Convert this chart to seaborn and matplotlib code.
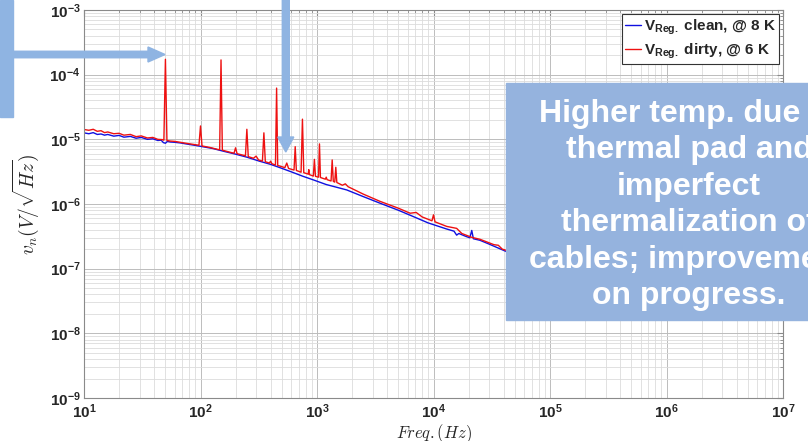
import numpy as np
import pandas as pd
import matplotlib
matplotlib.use("Agg")
import matplotlib.pyplot as plt
import matplotlib.ticker as mticker
from matplotlib.patches import Rectangle, FancyArrow
from matplotlib.transforms import IdentityTransform
import seaborn as sns

# ---------------- data ----------------
blue_freq = [10, 11, 12, 13, 14, 15, 16, 18, 20, 22, 25, 28, 31, 35, 39, 43, 46, 48, 50, 52,
             55, 60, 67, 75, 85, 100, 128, 160, 200, 250, 320, 400, 480, 600, 750, 930, 1200,
             1500, 1800, 2500, 3470, 5000, 6700, 9000, 13000, 15000, 15800, 16500, 19000,
             20500, 21300, 22000, 25000, 30000, 41000, 60000, 100000]
blue_vals = [1.26e-5, 1.22e-5, 1.27e-5, 1.19e-5, 1.21e-5, 1.16e-5, 1.19e-5, 1.12e-5, 1.15e-5,
             1.08e-5, 1.11e-5, 1.04e-5, 1.07e-5, 1.0e-5, 1.02e-5, 9.6e-6, 9.7e-6, 8.9e-6, 8.7e-6,
             9.3e-6, 9.1e-6, 9.0e-6, 8.8e-6, 8.5e-6, 8.2e-6, 7.8e-6, 7.2e-6, 6.5e-6, 5.9e-6,
             5.3e-6, 4.6e-6, 4.1e-6, 3.65e-6, 3.15e-6, 2.7e-6, 2.36e-6, 2.0e-6, 1.8e-6, 1.65e-6,
             1.3e-6, 1.03e-6, 8.0e-7, 6.4e-7, 5.1e-7, 4.1e-7, 3.8e-7, 3.3e-7, 3.5e-7, 3.15e-7,
             3.0e-7, 3.9e-7, 2.9e-7, 2.75e-7, 2.4e-7, 1.88e-7, 1.4e-7, 9.0e-8]

red_freq = [10, 11, 12, 13, 14, 15, 16, 18, 20, 22, 25, 28, 31, 35, 39, 43, 47, 48.5, 50, 51.5,
            55, 60, 67, 75, 85, 97, 100, 103, 120, 140, 146, 150, 154, 180, 194, 200, 206,
            240, 243, 250, 257, 285, 300, 315, 340, 350, 360, 390, 400, 410, 440, 450, 460,
            530, 550, 570, 635, 650, 665, 730, 750, 770, 840, 850, 860, 930, 950, 970,
            1030, 1050, 1070, 1180, 1200, 1220, 1320, 1350, 1380, 1420, 1450, 1480,
            1650, 1750, 1850, 2500, 3470, 5000, 6300, 7100, 8000, 9700, 10000, 10300,
            13000, 15800, 17500, 21300, 25000, 33000, 36000, 39000, 41000, 60000, 100000]
red_vals = [1.42e-5, 1.38e-5, 1.43e-5, 1.33e-5, 1.36e-5, 1.27e-5, 1.3e-5, 1.22e-5, 1.24e-5,
            1.16e-5, 1.19e-5, 1.1e-5, 1.13e-5, 1.05e-5, 1.07e-5, 1.0e-5, 9.9e-6, 9.7e-6,
            1.73e-4, 9.6e-6, 9.4e-6, 9.3e-6, 9.0e-6, 8.7e-6, 8.4e-6, 8.1e-6, 1.61e-5, 7.9e-6,
            7.5e-6, 7.0e-6, 6.9e-6, 1.69e-4, 6.8e-6, 6.3e-6, 6.1e-6, 7.4e-6, 6.0e-6,
            5.6e-6, 5.5e-6, 1.43e-5, 5.4e-6, 5.1e-6, 5.5e-6, 4.8e-6, 4.6e-6, 1.26e-5, 4.5e-6,
            4.3e-6, 4.6e-6, 4.2e-6, 4.0e-6, 6.2e-5, 3.95e-6, 3.65e-6, 4.3e-6, 3.55e-6,
            3.35e-6, 7.7e-6, 3.3e-6, 3.1e-6, 2.05e-5, 3.05e-6, 2.9e-6, 3.4e-6, 2.85e-6,
            2.7e-6, 4.9e-6, 2.68e-6, 2.6e-6, 8.5e-6, 2.57e-6, 2.42e-6, 2.6e-6, 2.38e-6,
            2.27e-6, 4.8e-6, 2.24e-6, 2.18e-6, 3.7e-6, 2.15e-6, 1.95e-6, 2.05e-6, 1.85e-6,
            1.42e-6, 1.1e-6, 8.6e-7, 7.2e-7, 7.4e-7, 6.3e-7, 5.5e-7, 6.8e-7, 5.3e-7,
            4.5e-7, 4.2e-7, 3.5e-7, 3.05e-7, 2.85e-7, 2.35e-7, 2.3e-7, 2.0e-7, 1.95e-7,
            1.45e-7, 9.3e-8]

series_names = ["clean", "dirty"]
legend_labels = [r"V$_{\mathbf{Reg.}}$ clean, @ 8 K", r"V$_{\mathbf{Reg.}}$ dirty, @ 6 K"]
x_ticks = [1e1, 1e2, 1e3, 1e4, 1e5, 1e6, 1e7]
x_tick_labels = [r"$\mathbf{10^{%d}}$" % e for e in [1, 2, 3, 4, 5, 6, 7]]
y_ticks = [1e-9, 1e-8, 1e-7, 1e-6, 1e-5, 1e-4, 1e-3]
y_tick_labels = [r"$\mathbf{10^{%d}}$" % e for e in [-9, -8, -7, -6, -5, -4, -3]]
x_label = r"$Freq.(Hz)$"
y_label = r"$v_n(V/\sqrt{Hz})$"
note_lines = ["Higher temp. due to", "thermal pad and", "imperfect",
              "thermalization of", "cables; improvement", "on progress."]

df = pd.concat([
    pd.DataFrame({"freq": blue_freq, "vn": blue_vals, "series": series_names[0]}),
    pd.DataFrame({"freq": red_freq, "vn": red_vals, "series": series_names[1]}),
], ignore_index=True)

# ---------------- style ----------------
sns.set_style("white")
plt.rcParams["font.family"] = ["Liberation Sans", "DejaVu Sans"]
plt.rcParams["mathtext.fontset"] = "custom"
plt.rcParams["mathtext.rm"] = "Liberation Sans:bold"
plt.rcParams["mathtext.bf"] = "Liberation Sans:bold"
plt.rcParams["mathtext.it"] = "Liberation Sans:bold:italic"

W, H = 808, 441
fig = plt.figure(figsize=(W / 100, H / 100), dpi=100)
ax_l, ax_r, ax_t, ax_b = 84, 783, 10, 398
ax = fig.add_axes([ax_l / W, 1 - ax_b / H, (ax_r - ax_l) / W, (ax_b - ax_t) / H])

sns.lineplot(data=df, x="freq", y="vn", hue="series",
             palette={"clean": "#1010e0", "dirty": "#ee1111"},
             linewidth=1.0, estimator=None, ax=ax, legend=False)

ax.set_xscale("log")
ax.set_yscale("log")
ax.set_xlim(1e1, 1e7)
ax.set_ylim(1e-9, 1e-3)

ax.xaxis.set_major_locator(mticker.FixedLocator(x_ticks))
ax.xaxis.set_major_formatter(mticker.FixedFormatter(x_tick_labels))
ax.yaxis.set_major_locator(mticker.FixedLocator(y_ticks))
ax.yaxis.set_major_formatter(mticker.FixedFormatter(y_tick_labels))
ax.xaxis.set_minor_locator(mticker.LogLocator(base=10, subs=np.arange(2, 10), numticks=30))
ax.yaxis.set_minor_locator(mticker.LogLocator(base=10, subs=np.arange(2, 10), numticks=30))
ax.xaxis.set_minor_formatter(mticker.NullFormatter())
ax.yaxis.set_minor_formatter(mticker.NullFormatter())

ax.grid(True, which="major", color="#bcbcbc", linewidth=0.7)
ax.grid(True, which="minor", color="#dcdcdc", linewidth=0.6)
ax.set_axisbelow(True)

ax.tick_params(which="both", direction="in", top=True, right=True, color="#8a8a8a")
ax.tick_params(which="major", length=4, labelsize=11)
ax.tick_params(which="minor", length=2.5)
ax.tick_params(axis="x", pad=3)
ax.tick_params(axis="y", pad=2.5)
for s in ax.spines.values():
    s.set_color("#8a8a8a")
    s.set_linewidth(0.8)

ax.set_xlabel(x_label, math_fontfamily="cm", fontsize=12)
ax.set_ylabel(y_label, math_fontfamily="cm", fontsize=14)
ax.xaxis.set_label_coords(0.5, -0.062)
ax.xaxis.label.set_va("top")
ax.yaxis.set_label_coords(-0.062, 0.5)

leg = ax.legend(handles=ax.lines[:2], labels=legend_labels, loc="upper right",
                bbox_to_anchor=(0.9943, 0.989), borderaxespad=0, fancybox=False,
                framealpha=1, edgecolor="#333333", handlelength=1.05, handletextpad=0.2,
                borderpad=0.2, labelspacing=0.3,
                prop={"family": "Liberation Sans", "weight": "bold", "size": 11})
leg.get_frame().set_linewidth(0.8)

# ---------------- overlays (slide annotations) ----------------
ov = "#8fb4e2"
box_col = "#95b3de"
ident = IdentityTransform()
fig.add_artist(Rectangle((0, H - 117), 13.3, 117, transform=ident, color=ov, zorder=5))
fig.add_artist(FancyArrow(13, H - 54.5, 152, 0, width=6.5, head_width=15, head_length=17,
                          length_includes_head=True, transform=ident, color=ov, zorder=5))
fig.add_artist(FancyArrow(285.8, H, 0, -152, width=7, head_width=16, head_length=15,
                          length_includes_head=True, transform=ident, color=ov, zorder=5))
fig.add_artist(Rectangle((506, H - 320), 310, 237.3, transform=ident, color=box_col, zorder=5))
for i, line in enumerate(note_lines):
    yb = 121.7 + 36.5 * i
    fig.text(689 / W, 1 - yb / H, line, ha="center", va="baseline", color="white",
             fontsize=23, fontweight="bold", family="Liberation Sans", zorder=6)

fig.savefig("out.png", dpi=100)
